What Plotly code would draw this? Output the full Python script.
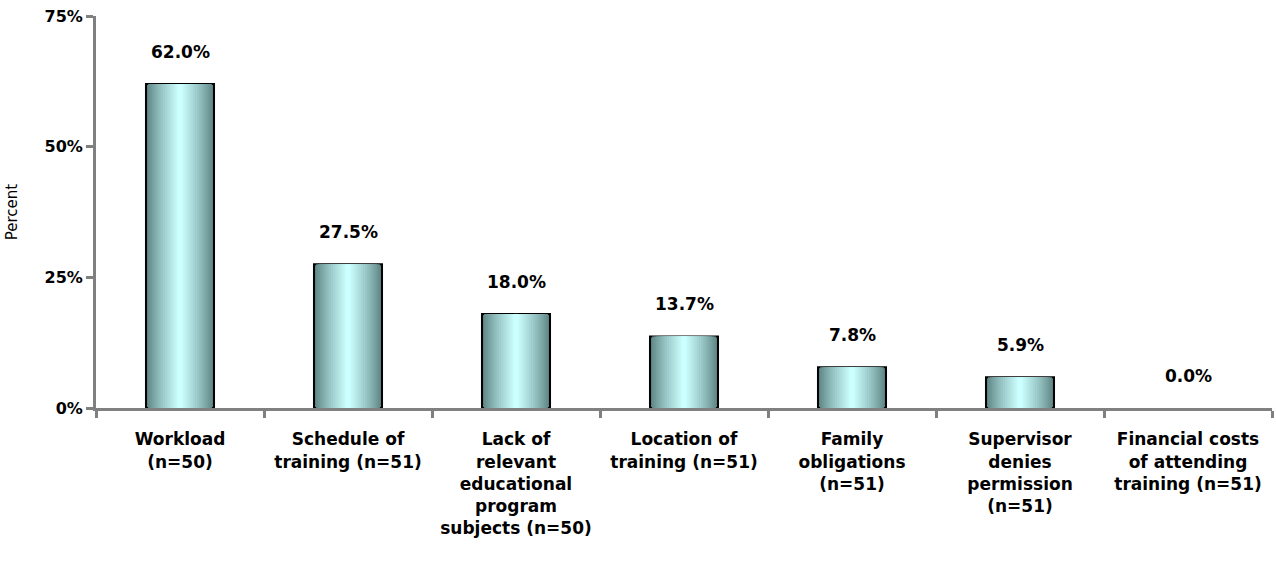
import plotly.graph_objects as go

# Barriers to attending training
categories = [
    "Workload<br>(n=50)",
    "Schedule of<br>training (n=51)",
    "Lack of<br>relevant<br>educational<br>program<br>subjects (n=50)",
    "Location of<br>training (n=51)",
    "Family<br>obligations<br>(n=51)",
    "Supervisor<br>denies<br>permission<br>(n=51)",
    "Financial costs<br>of attending<br>training (n=51)",
]
values = [62.0, 27.5, 18.0, 13.7, 7.8, 5.9, 0.0]
y_ticks = [0, 25, 50, 75]

FONT = "DejaVu Sans, Verdana, sans-serif"
AXIS_GREY = "#808080"


def mix(c1, c2, t):
    return "#%02x%02x%02x" % tuple(int(round(a + (b - a) * t)) for a, b in zip(c1, c2))


dark = (0x5a, 0x80, 0x80)
light = (0xcc, 0xff, 0xff)

fig = go.Figure()

# fake a cylinder gradient by stacking narrower, lighter bars on top of each other
bar_w = 0.405
steps = 16
outline = [2 if v > 0 else 0 for v in values]  # no outline on empty bars
for i in range(steps):
    t = i / (steps - 1)
    fig.add_trace(go.Bar(
        x=categories,
        y=values,
        width=bar_w * (1 - 0.93 * t),
        marker=dict(
            color=mix(dark, light, t ** 0.8),
            line=dict(color="black", width=outline if i == 0 else 0),
        ),
        showlegend=False,
        hoverinfo="skip",
    ))

# value labels above the bars
for cat, v in zip(categories, values):
    fig.add_annotation(
        x=cat, y=v, text=f"{v:.1f}%", showarrow=False,
        yanchor="bottom", yshift=20,
        font=dict(family=FONT, size=17, color="black", weight="bold"),
    )

fig.update_layout(
    barmode="overlay",
    width=1276,
    height=573,
    margin=dict(l=96, r=4, t=16, b=165),
    plot_bgcolor="white",
    paper_bgcolor="white",
    font=dict(family=FONT, color="black"),
)

fig.update_xaxes(
    type="category",
    range=[-0.5, len(categories) - 0.5],
    automargin=False,
    showline=True, linecolor=AXIS_GREY, linewidth=3,
    showgrid=False,
    ticks="outside", tickson="boundaries", ticklen=7, tickwidth=3, tickcolor=AXIS_GREY,
    tickfont=dict(family=FONT, size=17, color="black", weight="bold"),
    ticklabelstandoff=14,
    tickangle=0,
)

fig.update_yaxes(
    range=[0, 75],
    automargin=False,
    tickvals=y_ticks,
    ticktext=[f"{t}%" for t in y_ticks],
    showline=True, linecolor=AXIS_GREY, linewidth=3,
    showgrid=False, zeroline=False,
    ticks="outside", ticklen=7, tickwidth=3, tickcolor=AXIS_GREY,
    tickfont=dict(family=FONT, size=16, color="black", weight="bold"),
    title=dict(text="Percent", font=dict(family=FONT, size=15, color="black"), standoff=24),
)

# drop the browser's default body margin so the figure sits at the page corner
fig.write_html(
    "out.html",
    config={"displayModeBar": False},
    post_script="document.body.style.margin='0';",
)
